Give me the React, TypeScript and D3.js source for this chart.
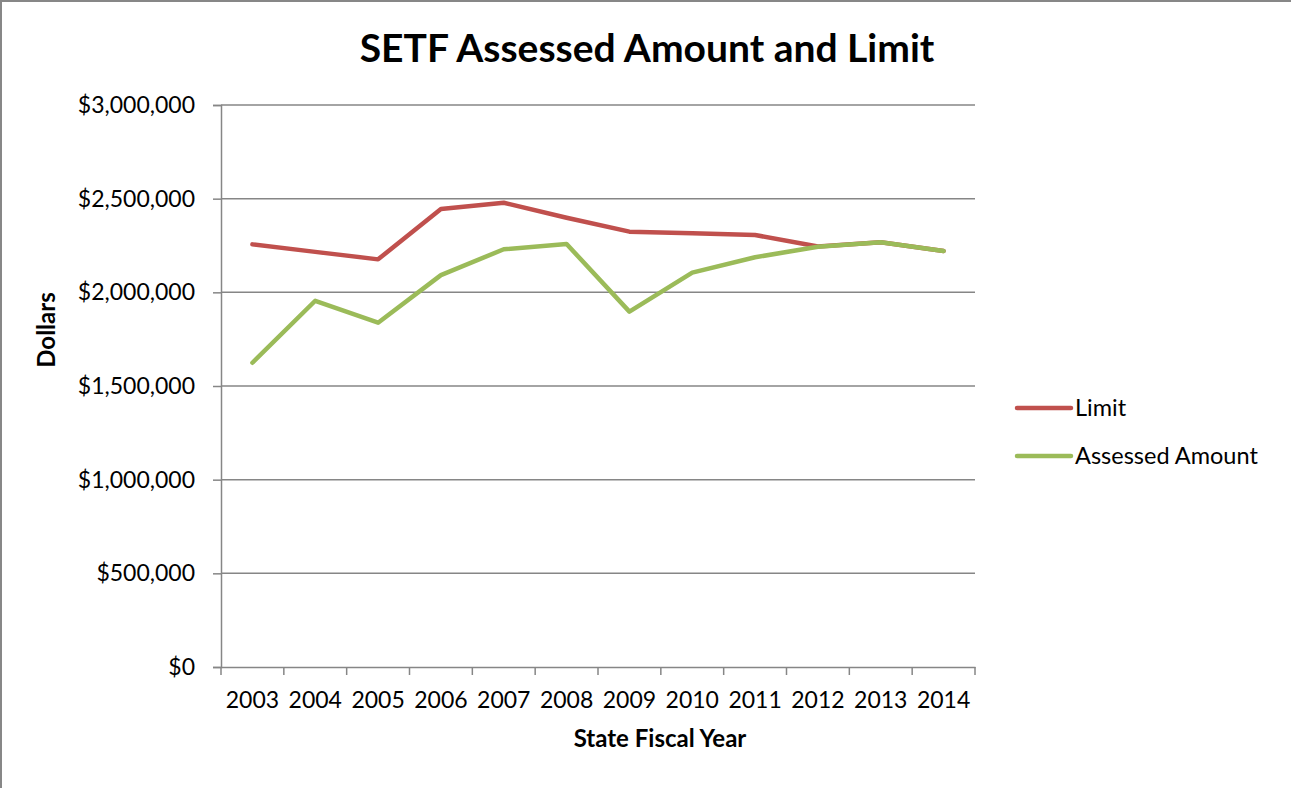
import React, { useEffect, useRef } from 'react';
import { axisBottom, axisLeft, format, line, scaleBand, scaleLinear, select } from 'd3';

// data
const years = ['2003', '2004', '2005', '2006', '2007', '2008', '2009', '2010', '2011', '2012', '2013', '2014'];
const limitValues = [2256000, 2216000, 2176000, 2445000, 2478000, 2398000, 2324000, 2315000, 2306000, 2245000, 2267000, 2221000];
const assessedValues = [1624000, 1955000, 1838000, 2092000, 2230000, 2258000, 1897000, 2105000, 2187000, 2243000, 2267000, 2221000];
const yTicks = [0, 500000, 1000000, 1500000, 2000000, 2500000, 3000000];
const seriesNames = ['Limit', 'Assessed Amount'];

const W = 1291;
const H = 788;
const FONT = 'Lato, "Open Sans", sans-serif';

export default function App() {
	const ref = useRef<SVGSVGElement>(null);

	useEffect(() => {
		const svg = select(ref.current);
		svg.selectAll('*').remove();

		const margin = { left: 221, right: 316, top: 105, bottom: 121 };

		const x = scaleBand()
			.domain(years)
			.range([margin.left, W - margin.right]);

		const y = scaleLinear()
			.domain([0, 3000000])
			.range([H - margin.bottom, margin.top]);

		// outer frame
		svg.append('rect')
			.attr('x', 1).attr('y', 1)
			.attr('width', W + 10).attr('height', H + 10)
			.attr('fill', 'white')
			.attr('stroke', '#878787')
			.attr('stroke-width', 2);

		// gridlines
		svg.append('g')
			.selectAll('line')
			.data(yTicks.filter(d => d > 0))
			.join('line')
			.attr('x1', margin.left).attr('x2', W - margin.right)
			.attr('y1', d => y(d)).attr('y2', d => y(d))
			.attr('stroke', '#868686')
			.attr('stroke-width', 1.5);

		// y axis
		const gy = svg.append('g')
			.attr('transform', `translate(${margin.left},0)`)
			.call(axisLeft(y).tickValues(yTicks).tickSize(8).tickPadding(18).tickFormat(d => '$' + format(',')(d as number)));
		gy.select('.domain').attr('stroke', '#868686').attr('stroke-width', 1.5);
		gy.selectAll('.tick line').attr('stroke', '#868686').attr('stroke-width', 1.5);
		gy.selectAll('.tick text')
			.attr('font-family', FONT).attr('font-size', 23).attr('fill', '#000');

		// x axis
		const gx = svg.append('g')
			.attr('transform', `translate(0,${y(0)})`)
			.call(axisBottom(x).tickSize(0).tickPadding(25));
		gx.select('.domain').attr('stroke', '#868686').attr('stroke-width', 1.5);
		gx.selectAll('.tick text')
			.attr('font-family', FONT).attr('font-size', 23).attr('fill', '#000');
		// category boundary ticks
		gx.append('g')
			.selectAll('line')
			.data([...years.map(d => x(d) as number), W - margin.right])
			.join('line')
			.attr('x1', d => d).attr('x2', d => d)
			.attr('y1', 0).attr('y2', 8)
			.attr('stroke', '#868686')
			.attr('stroke-width', 1.5);

		// series
		const path = line<number>()
			.x((d, i) => (x(years[i]) as number) + x.bandwidth() / 2)
			.y(d => y(d));

		const series = [
			{ name: seriesNames[0], values: limitValues, color: '#C0504D' },
			{ name: seriesNames[1], values: assessedValues, color: '#9BBB59' }
		];

		svg.append('g')
			.selectAll('path')
			.data(series)
			.join('path')
			.attr('d', d => path(d.values))
			.attr('fill', 'none')
			.attr('stroke', d => d.color)
			.attr('stroke-width', 4.5)
			.attr('stroke-linejoin', 'round')
			.attr('stroke-linecap', 'round');

		// legend
		const legend = svg.append('g')
			.selectAll('g')
			.data(series)
			.join('g')
			.attr('transform', (d, i) => `translate(1016,${408 + i * 48})`);
		legend.append('line')
			.attr('x1', 1).attr('x2', 55)
			.attr('stroke', d => d.color)
			.attr('stroke-width', 4.5)
			.attr('stroke-linecap', 'round');
		legend.append('text')
			.attr('x', 59).attr('dy', '0.35em')
			.attr('font-family', FONT).attr('font-size', 23.5)
			.text(d => d.name);

		// titles
		svg.append('text')
			.attr('x', 647).attr('y', 62)
			.attr('text-anchor', 'middle')
			.attr('font-family', FONT).attr('font-weight', 'bold').attr('font-size', 39)
			.text('SETF Assessed Amount and Limit');

		svg.append('text')
			.attr('x', 660).attr('y', 747)
			.attr('text-anchor', 'middle')
			.attr('font-family', FONT).attr('font-weight', 'bold').attr('font-size', 24)
			.text('State Fiscal Year');

		svg.append('text')
			.attr('transform', 'translate(55,330) rotate(-90)')
			.attr('text-anchor', 'middle')
			.attr('font-family', FONT).attr('font-weight', 'bold').attr('font-size', 24)
			.text('Dollars');
	}, []);

	return (
		<svg ref={ref} width={W} height={H} style={{ position: 'absolute', left: 0, top: 0 }} />
	);
}
